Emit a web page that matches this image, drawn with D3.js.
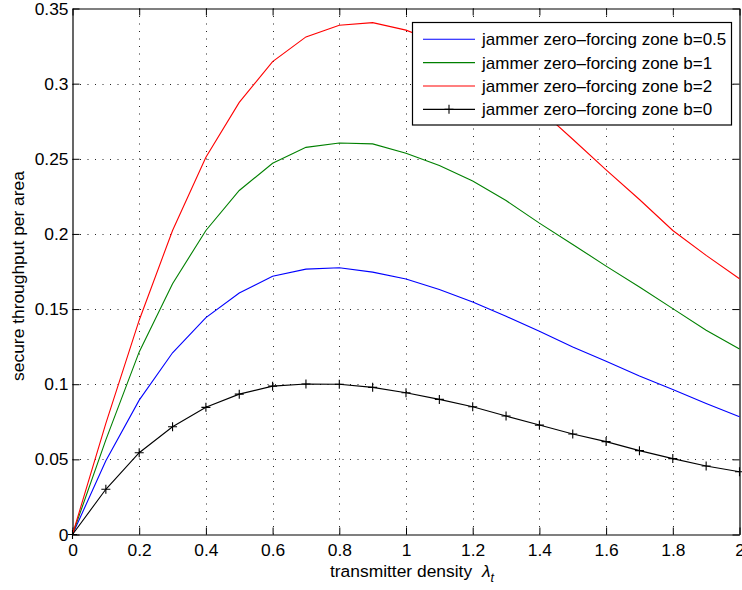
<!DOCTYPE html>
<html>
<head>
<meta charset="utf-8">
<script src="https://cdnjs.cloudflare.com/ajax/libs/d3/7.8.5/d3.min.js"></script>
<style>
  html, body { margin: 0; padding: 0; background: #fff; }
  svg { display: block; font-family: "Liberation Sans", Arial, Helvetica, sans-serif; }
</style>
</head>
<body>
<svg id="chart" width="742" height="590"></svg>
<script>
// transmitter density λ_t
const density = [0, 0.1, 0.2, 0.3, 0.4, 0.5, 0.6, 0.7, 0.8, 0.9, 1.0,
                 1.1, 1.2, 1.3, 1.4, 1.5, 1.6, 1.7, 1.8, 1.9, 2.0];

// secure throughput per area for each jammer zero-forcing zone size b
const zoneB05 = [0, 0.049, 0.0894, 0.1209, 0.1443, 0.1607, 0.1718, 0.1766, 0.1775, 0.1746, 0.170,
                 0.163, 0.1547, 0.1452, 0.1353, 0.1248, 0.1153, 0.1054, 0.0965, 0.0872, 0.0784];
const zoneB1  = [0, 0.063, 0.1215, 0.1669, 0.2023, 0.2289, 0.247, 0.2576, 0.2605, 0.2599, 0.2537,
                 0.2455, 0.2352, 0.2222, 0.2072, 0.193, 0.1786, 0.1647, 0.1503, 0.1359, 0.1235];
const zoneB2  = [0, 0.074, 0.1426, 0.2023, 0.251, 0.2875, 0.3147, 0.3311, 0.3389, 0.3406, 0.3356,
                 0.327, 0.315, 0.300, 0.283, 0.263, 0.2426, 0.2229, 0.2023, 0.1857, 0.1702];
const zoneB0  = [0, 0.0301, 0.0544, 0.0717, 0.0846, 0.0934, 0.0987, 0.1001, 0.1000, 0.0979, 0.0943,
                 0.0899, 0.0850, 0.0788, 0.0728, 0.0669, 0.0618, 0.0558, 0.0505, 0.0456, 0.0418];

const seriesNames = [
  "jammer zero\u2013forcing zone b=0.5",
  "jammer zero\u2013forcing zone b=1",
  "jammer zero\u2013forcing zone b=2",
  "jammer zero\u2013forcing zone b=0"
];
const seriesColors = ["#0000ff", "#008000", "#ff0000", "#000000"];

const xTickValues = [0, 0.2, 0.4, 0.6, 0.8, 1, 1.2, 1.4, 1.6, 1.8, 2];
const xTickLabels = ["0", "0.2", "0.4", "0.6", "0.8", "1", "1.2", "1.4", "1.6", "1.8", "2"];
const yTickValues = [0, 0.05, 0.1, 0.15, 0.2, 0.25, 0.3, 0.35];
const yTickLabels = ["0", "0.05", "0.1", "0.15", "0.2", "0.25", "0.3", "0.35"];

(function drawChart() {
  const series = [zoneB05, zoneB1, zoneB2, zoneB0].map((vals, i) => ({
    name: seriesNames[i],
    color: seriesColors[i],
    marker: i === 3,
    points: vals.map((v, j) => ({ x: density[j], y: v }))
  }));

  const svg = d3.select("#chart");
  const pl = 72.5, pr = 739.5, pt = 8.5, pb = 534.5;

  const x = d3.scaleLinear().domain([0, 2]).range([pl, pr]);
  const y = d3.scaleLinear().domain([0, 0.35]).range([pb, pt]);

  // dotted grid
  const grid = svg.append("g").attr("stroke", "#222").attr("stroke-width", 1)
    .attr("stroke-dasharray", "1,6.5").attr("fill", "none");
  xTickValues.slice(1, -1).forEach(v => {
    const px = Math.round(x(v)) + 0.5;
    grid.append("line").attr("x1", px).attr("x2", px).attr("y1", pb).attr("y2", pt);
  });
  yTickValues.slice(1, -1).forEach(v => {
    const py = Math.round(y(v)) + 0.5;
    grid.append("line").attr("y1", py).attr("y2", py).attr("x1", pl).attr("x2", pr);
  });

  // axes with inward ticks on all four sides
  const fontSize = 17.4;
  const tick = 7;
  const xAxis = svg.append("g").attr("transform", `translate(0,${pb})`)
    .call(d3.axisBottom(x).tickValues(xTickValues).tickFormat((d, i) => xTickLabels[i])
      .tickSizeInner(-tick).tickSizeOuter(0).tickPadding(9));
  const yAxis = svg.append("g").attr("transform", `translate(${pl},0)`)
    .call(d3.axisLeft(y).tickValues(yTickValues).tickFormat((d, i) => yTickLabels[i])
      .tickSizeInner(-tick).tickSizeOuter(0).tickPadding(4));
  const xTop = svg.append("g").attr("transform", `translate(0,${pt})`)
    .call(d3.axisTop(x).tickValues(xTickValues).tickFormat("").tickSizeInner(-tick).tickSizeOuter(0));
  const yRight = svg.append("g").attr("transform", `translate(${pr},0)`)
    .call(d3.axisRight(y).tickValues(yTickValues).tickFormat("").tickSizeInner(-tick).tickSizeOuter(0));

  [xAxis, yAxis, xTop, yRight].forEach(g => {
    g.select(".domain").attr("stroke", "#000").attr("stroke-width", 1.2);
    g.selectAll(".tick line").attr("stroke", "#000").attr("stroke-width", 1);
    g.selectAll(".tick text").attr("font-size", fontSize).attr("fill", "#000")
      .attr("font-family", "Liberation Sans, Arial, Helvetica, sans-serif");
  });

  // curves
  const line = d3.line().x(d => x(d.x)).y(d => y(d.y));
  series.forEach(s => {
    svg.append("path").datum(s.points).attr("d", line)
      .attr("fill", "none").attr("stroke", s.color).attr("stroke-width", 1.1);
    if (s.marker) {
      const m = 4.5;
      svg.append("g").selectAll("path").data(s.points).join("path")
        .attr("d", d => `M${x(d.x) - m},${y(d.y)}H${x(d.x) + m}M${x(d.x)},${y(d.y) - m}V${y(d.y) + m}`)
        .attr("stroke", s.color).attr("stroke-width", 1.1).attr("fill", "none");
    }
  });

  // legend
  const lg = svg.append("g");
  lg.append("rect").attr("x", 412.5).attr("y", 22.5).attr("width", 319).attr("height", 102.5)
    .attr("fill", "#fff").attr("stroke", "#000").attr("stroke-width", 1.2);
  series.forEach((s, i) => {
    const cy = 39.3 + i * 23.35;
    lg.append("line").attr("x1", 423).attr("x2", 475).attr("y1", cy).attr("y2", cy)
      .attr("stroke", s.color).attr("stroke-width", 1.1);
    if (s.marker) {
      lg.append("path").attr("d", `M444.5,${cy}H453.5M449,${cy - 4.5}V${cy + 4.5}`)
        .attr("stroke", s.color).attr("stroke-width", 1.1);
    }
    lg.append("text").attr("x", 482).attr("y", cy).attr("dy", "0.36em")
      .attr("font-size", 17).attr("fill", "#000").text(s.name);
  });

  // axis titles
  const xl = svg.append("text").attr("x", 330).attr("y", 577).attr("font-size", fontSize).attr("fill", "#000");
  xl.append("tspan").text("transmitter density");
  xl.append("tspan").attr("x", 482).attr("font-style", "italic").text("\u03bb");
  xl.append("tspan").attr("font-style", "italic").attr("font-size", 12.5).attr("dy", 5).text("t");

  svg.append("text").attr("transform", `translate(23.5,${(pt + pb) / 2 + 4.5}) rotate(-90)`)
    .attr("text-anchor", "middle").attr("font-size", fontSize).attr("fill", "#000")
    .text("secure throughput per area");
})();
</script>
</body>
</html>
